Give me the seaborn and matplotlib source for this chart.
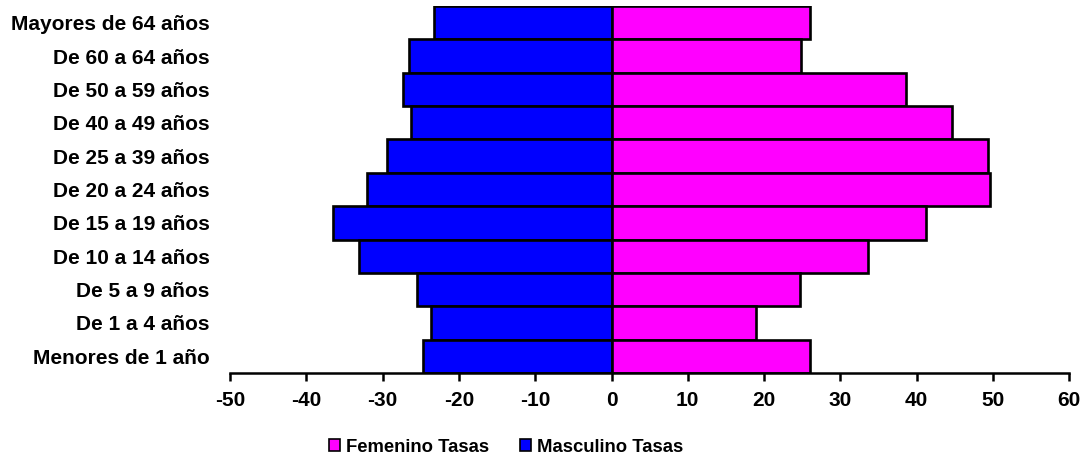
import matplotlib
matplotlib.use("Agg")
import matplotlib.pyplot as plt
from matplotlib.patches import Patch
import seaborn as sns
import pandas as pd

categories = ["Mayores de 64 años", "De 60 a 64 años", "De 50 a 59 años", "De 40 a 49 años",
              "De 25 a 39 años", "De 20 a 24 años", "De 15 a 19 años", "De 10 a 14 años",
              "De 5 a 9 años", "De 1 a 4 años", "Menores de 1 año"]
femenino = [26.0, 24.9, 38.6, 44.6, 49.3, 49.6, 41.2, 33.6, 24.7, 18.9, 26.0]
masculino = [-23.2, -26.5, -27.3, -26.3, -29.4, -32.0, -36.5, -33.1, -25.5, -23.7, -24.7]
xticks = [-50, -40, -30, -20, -10, 0, 10, 20, 30, 40, 50, 60]

sns.set_style("white")
plt.rcParams['font.family'] = ['Liberation Sans', 'DejaVu Sans']
plt.rcParams['font.weight'] = 'bold'
plt.rcParams['text.color'] = 'black'
plt.rcParams['xtick.color'] = 'black'
plt.rcParams['ytick.color'] = 'black'

df = pd.DataFrame({"cat": categories, "fem": femenino, "mas": masculino})

fig = plt.figure(figsize=(10.89, 4.59), dpi=100)
ax = fig.add_axes([230/1089, 1 - 373/459, (1069.3 - 230)/1089, (373 - 6)/459])

fem_color = "#FF00FF"
mas_color = "#0000FF"
sns.barplot(data=df, x="mas", y="cat", orient="h", color=mas_color, edgecolor="black",
            linewidth=1.9, width=1.0, saturation=1, ax=ax)
sns.barplot(data=df, x="fem", y="cat", orient="h", color=fem_color, edgecolor="black",
            linewidth=1.9, width=1.0, saturation=1, ax=ax)

ax.set_xlim(-50, 60)
ax.set_ylim(len(categories) - 0.5, -0.5)
ax.set_xticks(xticks)
ax.set_xticklabels([str(t) for t in xticks], fontsize=15, fontweight='bold', color='black')
ax.set_yticks(range(len(categories)))
ax.set_yticklabels(categories, fontsize=15, fontweight='bold', color='black')
ax.set_xlabel("")
ax.set_ylabel("")
for s in ["top", "right", "left"]:
    ax.spines[s].set_visible(False)
ax.spines["bottom"].set_linewidth(1.8)
ax.spines["bottom"].set_color("black")
ax.tick_params(axis="x", which="major", bottom=True, direction="out", length=6, width=1.8,
               color="black", pad=7)
ax.tick_params(axis="y", length=0, pad=14.5)

handles = [Patch(facecolor=fem_color, edgecolor="black", linewidth=1.2, label="Femenino Tasas"),
           Patch(facecolor=mas_color, edgecolor="black", linewidth=1.2, label="Masculino Tasas")]
fig.legend(handles=handles, loc="center", bbox_to_anchor=(506/1089, 1 - 447/459), ncol=2,
           frameon=False, prop={'size': 13.3, 'weight': 'bold'}, handlelength=0.6,
           handleheight=0.6, handletextpad=0.3, columnspacing=1.7)

fig.savefig("out.png", dpi=100)
